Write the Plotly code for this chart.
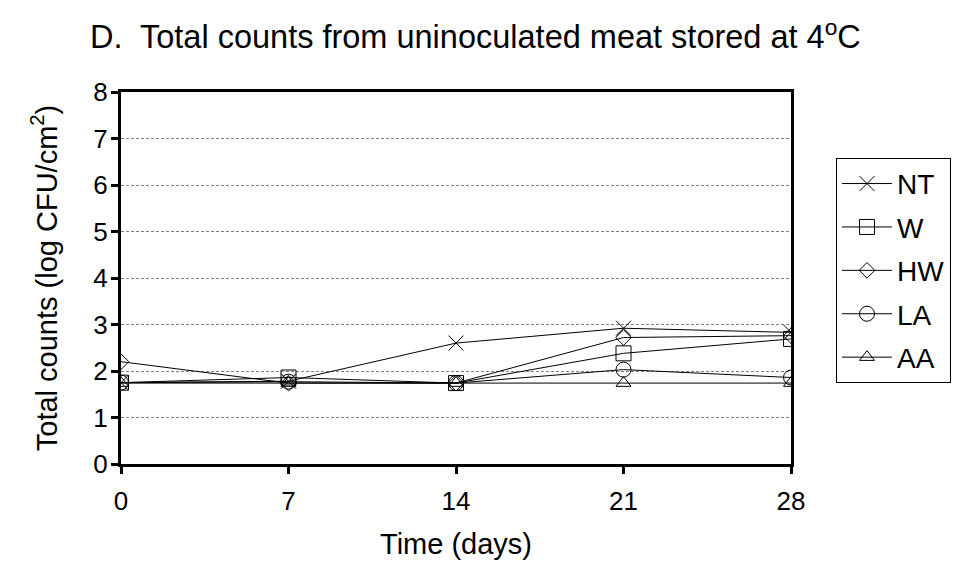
import plotly.graph_objects as go

days = [0, 7, 14, 21, 28]
series_names = ["NT", "W", "HW", "LA", "AA"]
nt = [1.75, 1.78, 2.60, 2.92, 2.83]
w = [1.75, 1.86, 1.74, 2.38, 2.69]
hw = [2.20, 1.74, 1.74, 2.72, 2.76]
la = [1.75, 1.77, 1.74, 2.03, 1.86]
aa = [1.74, 1.74, 1.74, 1.74, 1.74]
y_ticks = [0, 1, 2, 3, 4, 5, 6, 7, 8]

values = [nt, w, hw, la, aa]
symbols = ["x-thin-open", "square-open", "diamond-open", "circle-open", "triangle-up-open"]
sizes = [15, 15, 12, 15, 13]

FONT = "Liberation Sans, Arial, sans-serif"

# page body has an 8px margin, so the figure is sized to fit inside the window
W, H = 957, 559

fig = go.Figure()
for name, vals, sym, sz in zip(series_names, values, symbols, sizes):
    fig.add_trace(go.Scatter(
        x=days, y=vals, name=name, legendgroup=name,
        mode="lines+markers",
        line=dict(color="black", width=1),
        marker=dict(symbol=sym, size=sz, color="black",
                    line=dict(color="black", width=1)),
    ))

fig.update_layout(
    width=W, height=H,
    margin=dict(l=113, r=174, t=84, b=103),
    paper_bgcolor="white", plot_bgcolor="white",
    font=dict(family=FONT, color="black", size=26),
    title=dict(text="D.  Total counts from uninoculated meat stored at 4<sup>o</sup>C",
               x=82/W, xanchor="left", y=1-29/H, yanchor="middle",
               font=dict(size=32.5, family=FONT)),
    legend=dict(x=(828-113)/(W-113-174), xanchor="left", y=0.823, yanchor="top",
                bordercolor="black", borderwidth=1, bgcolor="white",
                font=dict(size=28, family=FONT), itemwidth=50,
                tracegroupgap=4, traceorder="grouped"),
    showlegend=True,
)
fig.update_xaxes(
    range=[0, 28], tickvals=days, ticktext=[str(d) for d in days],
    showline=True, linecolor="black", linewidth=3, mirror=True,
    ticks="outside", ticklen=7, tickwidth=3, tickcolor="black",
    showgrid=False, zeroline=False,
    tickfont=dict(size=26), ticklabelstandoff=5,
    title=dict(text="Time (days)", font=dict(size=29), standoff=19),
)
fig.update_yaxes(
    range=[0, 8], tickvals=y_ticks,
    showline=True, linecolor="black", linewidth=3, mirror=True,
    ticks="outside", ticklen=7, tickwidth=3, tickcolor="black",
    showgrid=True, gridcolor="#808080", griddash="3px,2px", gridwidth=1,
    zeroline=False,
    tickfont=dict(size=26), ticklabelstandoff=-2,
    title=dict(text="Total counts (log CFU/cm<sup>2</sup>)", font=dict(size=29), standoff=28),
)
fig.write_html("out.html")
